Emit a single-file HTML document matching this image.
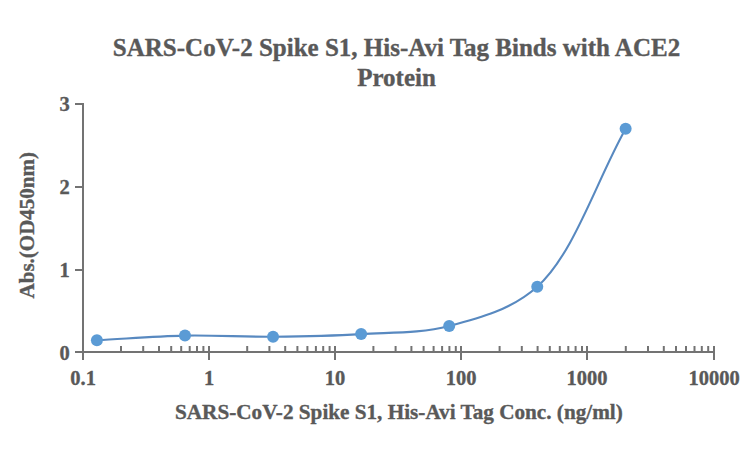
<!DOCTYPE html>
<html><head><meta charset="utf-8"><style>
html,body{margin:0;padding:0;background:#fff;width:751px;height:451px;overflow:hidden}
svg{display:block}
text{font-family:"Liberation Serif",serif;font-weight:bold;fill:#595959;stroke:#595959;stroke-width:0.35px}
</style></head><body>
<svg width="751" height="451" viewBox="0 0 751 451">
<rect width="751" height="451" fill="#fff"/>
<g font-size="25">
<text x="396.5" y="56" text-anchor="middle">SARS-CoV-2 Spike S1, His-Avi Tag Binds with ACE2</text>
<text x="396.5" y="86" text-anchor="middle">Protein</text>
</g>
<g stroke="#737373" stroke-width="2" fill="none">
<line x1="83" y1="103" x2="83" y2="360"/>
<line x1="75" y1="352" x2="715" y2="352"/>
<line x1="75" y1="352" x2="83" y2="352"/><line x1="75" y1="270" x2="83" y2="270"/><line x1="75" y1="187" x2="83" y2="187"/><line x1="75" y1="104" x2="83" y2="104"/><line x1="83" y1="352" x2="83" y2="360"/><line x1="209" y1="352" x2="209" y2="360"/><line x1="335" y1="352" x2="335" y2="360"/><line x1="461" y1="352" x2="461" y2="360"/><line x1="587" y1="352" x2="587" y2="360"/><line x1="714" y1="352" x2="714" y2="360"/><line x1="121.0" y1="346" x2="121.0" y2="352"/><line x1="143.2" y1="346" x2="143.2" y2="352"/><line x1="159.0" y1="346" x2="159.0" y2="352"/><line x1="171.2" y1="346" x2="171.2" y2="352"/><line x1="181.2" y1="346" x2="181.2" y2="352"/><line x1="189.7" y1="346" x2="189.7" y2="352"/><line x1="197.0" y1="346" x2="197.0" y2="352"/><line x1="203.4" y1="346" x2="203.4" y2="352"/><line x1="209" y1="346" x2="209" y2="352"/><line x1="247.2" y1="346" x2="247.2" y2="352"/><line x1="269.4" y1="346" x2="269.4" y2="352"/><line x1="285.2" y1="346" x2="285.2" y2="352"/><line x1="297.4" y1="346" x2="297.4" y2="352"/><line x1="307.4" y1="346" x2="307.4" y2="352"/><line x1="315.9" y1="346" x2="315.9" y2="352"/><line x1="323.2" y1="346" x2="323.2" y2="352"/><line x1="329.6" y1="346" x2="329.6" y2="352"/><line x1="335" y1="346" x2="335" y2="352"/><line x1="373.4" y1="346" x2="373.4" y2="352"/><line x1="395.6" y1="346" x2="395.6" y2="352"/><line x1="411.4" y1="346" x2="411.4" y2="352"/><line x1="423.6" y1="346" x2="423.6" y2="352"/><line x1="433.6" y1="346" x2="433.6" y2="352"/><line x1="442.1" y1="346" x2="442.1" y2="352"/><line x1="449.4" y1="346" x2="449.4" y2="352"/><line x1="455.8" y1="346" x2="455.8" y2="352"/><line x1="461" y1="346" x2="461" y2="352"/><line x1="499.6" y1="346" x2="499.6" y2="352"/><line x1="521.8" y1="346" x2="521.8" y2="352"/><line x1="537.6" y1="346" x2="537.6" y2="352"/><line x1="549.8" y1="346" x2="549.8" y2="352"/><line x1="559.8" y1="346" x2="559.8" y2="352"/><line x1="568.3" y1="346" x2="568.3" y2="352"/><line x1="575.6" y1="346" x2="575.6" y2="352"/><line x1="582.0" y1="346" x2="582.0" y2="352"/><line x1="587" y1="346" x2="587" y2="352"/><line x1="625.8" y1="346" x2="625.8" y2="352"/><line x1="648.0" y1="346" x2="648.0" y2="352"/><line x1="663.8" y1="346" x2="663.8" y2="352"/><line x1="676.0" y1="346" x2="676.0" y2="352"/><line x1="686.0" y1="346" x2="686.0" y2="352"/><line x1="694.5" y1="346" x2="694.5" y2="352"/><line x1="701.8" y1="346" x2="701.8" y2="352"/><line x1="708.2" y1="346" x2="708.2" y2="352"/><line x1="714" y1="346" x2="714" y2="352"/>
</g>
<g font-size="20.5">
<text x="69.8" y="359.6" text-anchor="end">0</text><text x="69.8" y="276.9" text-anchor="end">1</text><text x="69.8" y="194.1" text-anchor="end">2</text><text x="69.8" y="111.4" text-anchor="end">3</text>
<text x="83.1" y="385.4" text-anchor="middle">0.1</text><text x="209.1" y="385.4" text-anchor="middle">1</text><text x="335.1" y="385.4" text-anchor="middle">10</text><text x="461.1" y="385.4" text-anchor="middle">100</text><text x="587.1" y="385.4" text-anchor="middle">1000</text><text x="714.1" y="385.4" text-anchor="middle">10000</text>
<text x="398.9" y="418.6" text-anchor="middle" font-size="21.2">SARS-CoV-2 Spike S1, His-Avi Tag Conc. (ng/ml)</text>
<text transform="translate(34.4,225.2) rotate(-90)" text-anchor="middle" font-size="21">Abs.(OD450nm)</text>
</g>
<path d="M96.91,340.20 C126.27,338.67 155.61,336.18 184.98,335.60 C214.33,335.02 243.70,336.95 273.05,336.70 C302.41,336.45 331.79,335.88 361.12,334.10 C390.51,332.32 420.50,333.48 449.19,326.00 C479.28,318.16 511.43,309.80 537.26,286.70 C573.77,254.05 596.17,181.43 625.63,128.80" fill="none" stroke="#5889c0" stroke-width="2.1"/>
<g fill="#5b9bd5"><circle cx="96.91" cy="340.20" r="6"/><circle cx="184.98" cy="335.60" r="6"/><circle cx="273.05" cy="336.70" r="6"/><circle cx="361.12" cy="334.10" r="6"/><circle cx="449.19" cy="326.00" r="6"/><circle cx="537.26" cy="286.70" r="6"/><circle cx="625.63" cy="128.80" r="6"/></g>
</svg>
</body></html>
